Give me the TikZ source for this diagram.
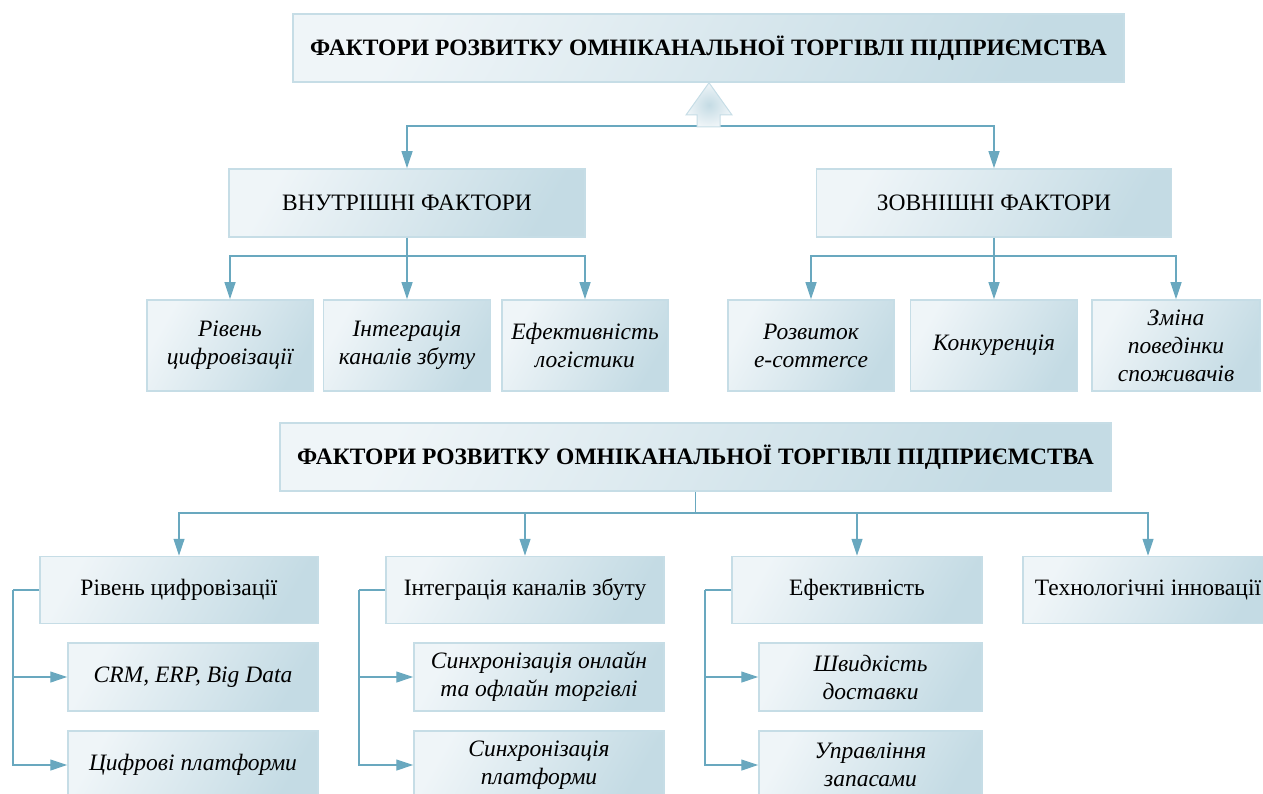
\documentclass[tikz,border=0pt]{standalone}
\usepackage{fontspec}
\setmainfont{Liberation Serif}
\usetikzlibrary{arrows.meta}
\definecolor{boxlight}{HTML}{EFF5F8}
\definecolor{boxdark}{HTML}{C4DBE4}
\definecolor{boxline}{HTML}{C6DDE6}
\definecolor{linkcol}{HTML}{69A8BF}
\tikzset{
  fbox/.style={draw=boxline, line width=1.5pt, left color=boxlight, right color=boxdark,
    shading angle=60, inner sep=2pt, align=center, minimum height=68pt,
    font=\fontsize{23.5}{28}\selectfont},
  ibox/.style={fbox, font=\fontsize{23.5}{28}\selectfont\itshape},
  tbox/.style={fbox, minimum width=831pt, font=\fontsize{23.5}{28}\selectfont\bfseries},
  link/.style={draw=linkcol, line width=1.2pt},
  arr/.style={link, -{Triangle[length=17pt,width=11pt]}}
}
\begin{document}
\begin{tikzpicture}[x=1pt,y=-1pt]
\useasboundingbox (0,0) rectangle (1263,794);
\clip (0,0) rectangle (1263,794);

% upper scheme
\node[tbox] (t1) at (708.5,48) {ФАКТОРИ РОЗВИТКУ ОМНІКАНАЛЬНОЇ ТОРГІВЛІ ПІДПРИЄМСТВА};
\node[fbox, minimum width=356pt] (vn) at (407,203) {ВНУТРІШНІ ФАКТОРИ};
\node[fbox, minimum width=355pt] (zn) at (994,203) {ЗОВНІШНІ ФАКТОРИ};
\node[ibox, minimum width=166pt, minimum height=91pt] (i1) at (230,345.5) {Рівень\\цифровізації};
\node[ibox, minimum width=167pt, minimum height=91pt] (i2) at (407,345.5) {Інтеграція\\каналів збуту};
\node[ibox, minimum width=166pt, minimum height=91pt] (i3) at (585,345.5) {Ефективність\\логістики};
\node[ibox, minimum width=166pt, minimum height=91pt] (e1) at (811,345.5) {Розвиток\\e-commerce};
\node[ibox, minimum width=167pt, minimum height=91pt] (e2) at (994,345.5) {Конкуренція};
\node[ibox, minimum width=168pt, minimum height=91pt] (e3) at (1176,345.5) {Зміна\\поведінки\\споживачів};

\coordinate (jt) at (709,126);
\coordinate (jv) at (407,256);
\coordinate (jz) at (994,256);
\draw[arr] (jt) -| (vn.north);
\draw[arr] (jt) -| (zn.north);
\draw[boxline, line width=1pt, inner color=boxdark, outer color=boxlight]
  (697,127) -- (697,115) -- (686,115) -- (t1.south -| 709,0) -- (732,115) -- (720,115) -- (720,127) -- cycle;
\draw[link] (vn.south) -- (jv);
\draw[arr] (jv) -| (i1.north);
\draw[arr] (jv) -- (i2.north);
\draw[arr] (jv) -| (i3.north);
\draw[link] (zn.south) -- (jz);
\draw[arr] (jz) -| (e1.north);
\draw[arr] (jz) -- (e2.north);
\draw[arr] (jz) -| (e3.north);

% lower scheme
\node[tbox] (t2) at (695.5,457) {ФАКТОРИ РОЗВИТКУ ОМНІКАНАЛЬНОЇ ТОРГІВЛІ ПІДПРИЄМСТВА};
\node[fbox, minimum width=278pt, minimum height=67pt] (l2a) at (179,590) {Рівень цифровізації};
\node[fbox, minimum width=278pt, minimum height=67pt] (l2b) at (525,590) {Інтеграція каналів збуту};
\node[fbox, minimum width=250pt, minimum height=67pt] (l2c) at (857,590) {Ефективність};
\node[fbox, minimum width=250pt, minimum height=67pt] (l2d) at (1148,590) {Технологічні інновації};
\node[ibox, minimum width=250pt] (sa1) at (193,677) {CRM, ERP, Big Data};
\node[ibox, minimum width=250pt] (sa2) at (193,765) {Цифрові платформи};
\node[ibox, minimum width=250pt] (sb1) at (539,677) {Синхронізація онлайн\\та офлайн торгівлі};
\node[ibox, minimum width=250pt] (sb2) at (539,765) {Синхронізація\\платформи};
\node[ibox, minimum width=223pt] (sc1) at (870.5,677) {Швидкість\\доставки};
\node[ibox, minimum width=223pt] (sc2) at (870.5,765) {Управління\\запасами};

\coordinate (jb) at (695.5,513);
\draw[link] (t2.south) -- (jb);
\draw[arr] (jb) -| (l2a.north);
\draw[arr] (jb) -| (l2b.north);
\draw[arr] (jb) -| (l2c.north);
\draw[arr] (jb) -| (l2d.north);

\coordinate (ba) at (13,590);
\coordinate (bb) at (359,590);
\coordinate (bc) at (705,590);
\draw[link] (l2a.west) -- (ba);
\draw[arr] (ba) |- (sa1.west);
\draw[arr] (ba) |- (sa2.west);
\draw[link] (l2b.west) -- (bb);
\draw[arr] (bb) |- (sb1.west);
\draw[arr] (bb) |- (sb2.west);
\draw[link] (l2c.west) -- (bc);
\draw[arr] (bc) |- (sc1.west);
\draw[arr] (bc) |- (sc2.west);

\end{tikzpicture}
\end{document}
